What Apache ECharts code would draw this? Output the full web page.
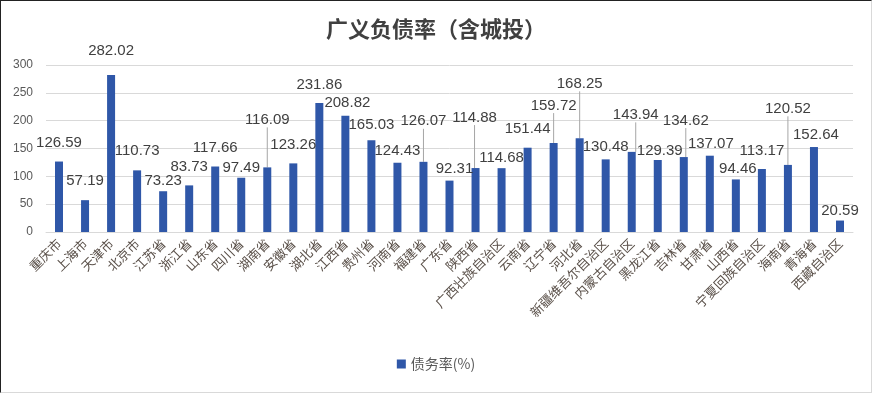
<!DOCTYPE html>
<html>
<head>
<meta charset="utf-8">
<script src="https://cdn.jsdelivr.net/npm/echarts@6/dist/echarts.min.js"></script>
<style>
html,body{margin:0;padding:0;background:#fff;}
#wrap{width:872px;height:393px;box-sizing:border-box;border-top:1px solid #222;border-left:1px solid #222;border-right:1px solid #d9d9d9;border-bottom:1px solid #d9d9d9;position:relative;overflow:hidden;}
#chart{position:absolute;left:-1px;top:-1px;width:872px;height:393px;}
</style>
</head>
<body>
<div id="wrap"><div id="chart"></div></div>
<script>
const titleText = '广义负债率（含城投）';
const seriesName = '债务率(%)';
const categories = ['重庆市','上海市','天津市','北京市','江苏省','浙江省','山东省','四川省','湖南省','安徽省','湖北省','江西省','贵州省','河南省','福建省','广东省','陕西省','广西壮族自治区','云南省','辽宁省','河北省','新疆维吾尔自治区','内蒙古自治区','黑龙江省','吉林省','甘肃省','山西省','宁夏回族自治区','海南省','青海省','西藏自治区'];
const debtRatio = [126.59,57.19,282.02,110.73,73.23,83.73,117.66,97.49,116.09,123.26,231.86,208.82,165.03,124.43,126.07,92.31,114.88,114.68,151.44,159.72,168.25,130.48,143.94,129.39,134.62,137.07,94.46,113.17,120.52,152.64,20.59];
const yTicks = [0,50,100,150,200,250,300];

// label placement (center offset from bar top) — styling only
const labelShift = [[0,-19.5],[0,-19.4],[0,-25],[0,-19.6],[0,-11],[0,-19.4],[0,-19.2],[0,-10.4],[0,-48],[0,-19.3],[0,-19],[2,-13],[0,-16],[0,-12.7],[0,-41],[5,-12.3],[-1,-51],[0,-10.4],[0,-19.3],[0,-38],[0,-55],[0,-13.3],[4,-37.5],[2,-10],[2,-37],[1,-12.4],[2,-11],[0,-19],[0,-56.6],[2,-13],[0,-10]];
const leaderIdx = [8,14,16,19,20,22,24,28];

const chart = echarts.init(document.getElementById('chart'));
const data = debtRatio.map((v,i)=>{
  const d = {value:v};
  if (leaderIdx.indexOf(i) >= 0) d.labelLine = {show:true, lineStyle:{color:'#a6a6a6',width:1}};
  return d;
});
chart.setOption({
  animation:false,
  backgroundColor:'#fff',
  title:{text:titleText,left:'center',top:13,textStyle:{fontFamily:'Noto Sans CJK SC',fontSize:22,fontWeight:'bold',color:'#404040'}},
  legend:{bottom:17,left:'center',icon:'rect',itemWidth:9,itemHeight:9,itemGap:6,
    textStyle:{fontFamily:'Noto Sans CJK SC',fontSize:14,color:'#595959'},data:[seriesName]},
  grid:{left:46,right:19,top:65,bottom:161,containLabel:false},
  xAxis:{type:'category',data:categories,
    axisLine:{lineStyle:{color:'#d9d9d9'}},axisTick:{show:false},
    axisLabel:{interval:0,rotate:45,margin:9,fontFamily:'Noto Sans CJK SC',fontSize:13,color:'#5a5049'}},
  yAxis:{type:'value',min:yTicks[0],max:yTicks[yTicks.length-1],interval:yTicks[1]-yTicks[0],
    axisLine:{show:false},axisTick:{show:false},
    axisLabel:{margin:13,fontFamily:'Liberation Sans',fontSize:12,color:'#595959'},
    splitLine:{lineStyle:{color:'#d9d9d9',width:1}}},
  series:[{
    name:seriesName,type:'bar',data:data,barWidth:8,
    itemStyle:{color:'#2f57a8'},
    label:{show:true,position:'top',distance:0,formatter:p=>p.value.toFixed(2),
      fontFamily:'Liberation Sans',fontSize:15,color:'#404040'},
    labelLine:{show:false,lineStyle:{color:'#a6a6a6',width:1}},
    labelLayout:function(p){const s=labelShift[p.dataIndex];return {dx:s[0],dy:s[1]+8};}
  }]
});
</script>
</body>
</html>
